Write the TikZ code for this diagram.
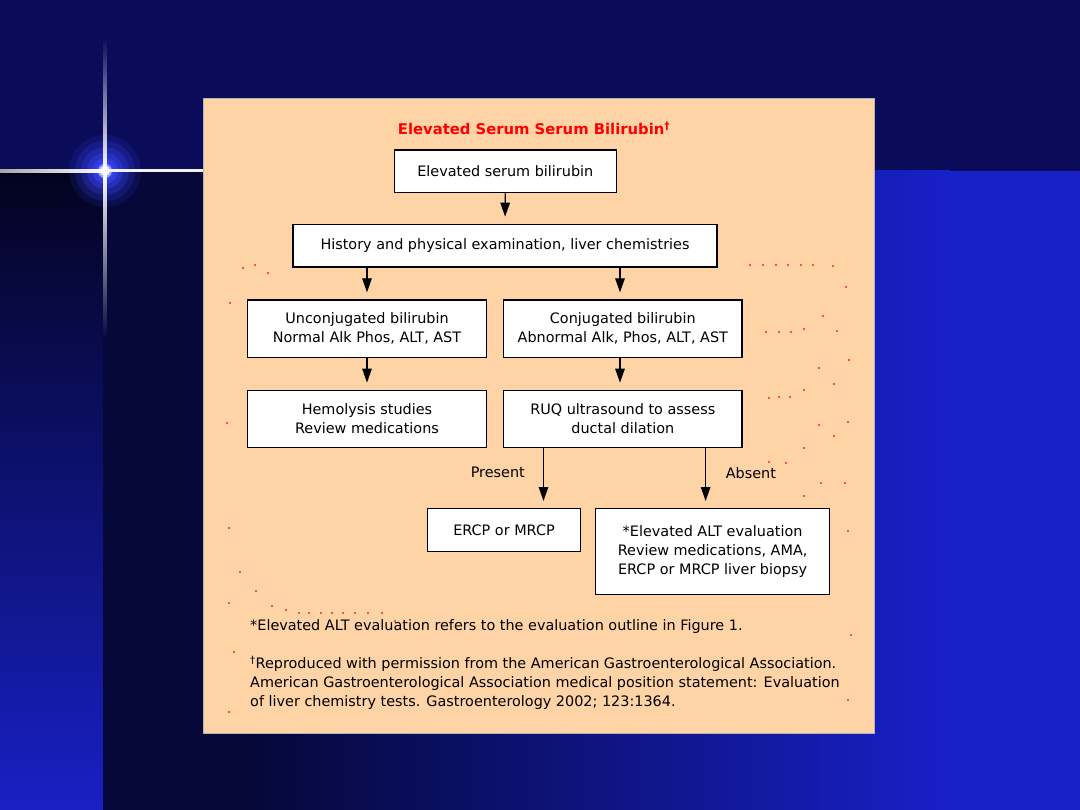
\documentclass[tikz,border=0pt]{standalone}
\usepackage{fontspec}
\setmainfont{DejaVu Sans}
\usetikzlibrary{arrows.meta}
\definecolor{topnavy}{RGB}{10,12,90}
\definecolor{stripdark}{RGB}{3,3,31}
\definecolor{stripblue}{RGB}{24,32,196}
\definecolor{maindark}{RGB}{5,8,56}
\definecolor{mainblue}{RGB}{24,32,200}
\definecolor{starblue}{RGB}{60,70,255}
\definecolor{panel}{RGB}{254,211,166}
\definecolor{dotred}{RGB}{240,40,40}
\begin{document}
\begin{tikzpicture}[x=1pt, y=-1pt,
    box/.style={draw=black, line width=1.4pt, fill=white, inner sep=0pt, align=center, font=\fontsize{14.4}{19}\selectfont},
    arr/.style={-{Triangle[length=14pt,width=9.5pt]}, line width=1.3pt, shorten >=7pt},
    txt/.style={inner sep=0pt, font=\fontsize{14.4}{19}\selectfont}]
    \useasboundingbox (0,0) rectangle (1080,810);
    % Background
    \fill[topnavy] (0,0) rectangle (1080,171);
    \shade[top color=stripdark, bottom color=stripblue] (0,171) rectangle (103,810);
    \fill[maindark] (103,171) rectangle (250,810);
    \shade[left color=maindark, right color=mainblue] (250,171) rectangle (950,810);
    \fill[mainblue] (950,171) rectangle (1080,810);
    % Star
    \coordinate (star) at (105,171);
    \foreach \r/\o in {36/0.12, 30/0.18, 24/0.25, 18/0.35, 13/0.5, 9/0.7} \fill[starblue, opacity=\o] (star) circle (\r);
    \foreach \r/\o in {7/0.5, 5/0.8, 3/1} \fill[white, opacity=\o] (star) circle (\r);
    \shade[top color=topnavy, bottom color=white] (103.5,38) rectangle (106.5,171);
    \shade[top color=white, bottom color=maindark] (103.5,171) rectangle (106.5,338);
    \shade[left color=gray!70, right color=white] (0,169.5) rectangle (105,172.5);
    \fill[white!90!gray] (105,169.5) rectangle (203,172.5);
    % Panel
    \fill[panel, draw=gray!60, line width=0.8pt] (203,98) rectangle (874,733);
    \foreach \x/\y in {243/268, 255/265, 268/273, 750/265, 763/265, 776/265, 788/265, 801/265, 813/265, 833/266, 846/287,
        230/303, 823/316, 766/332, 779/332, 791/332, 804/329, 837/331, 849/360, 819/368, 834/384, 804/390, 769/398, 779/397, 790/397,
        227/423, 819/425, 848/422, 834/436, 804/448, 769/462, 786/463, 821/483, 845/483, 804/496, 848/531, 229/528, 240/572,
        256/591, 229/603, 272/606, 286/610, 299/613, 309/613, 321/613, 332/613, 343/613, 355/613, 368/613, 382/613,
        395/621, 851/635, 234/652, 848/700, 229/712}
        \fill[dotred] (\x,\y) circle (1.1);
    % Title
    \node[inner sep=0pt, text=red, font=\fontsize{14.8}{17}\selectfont\bfseries] (title) at (534,128.5) {Elevated Serum Serum Bilirubin\textsuperscript{†}};
    % Boxes
    \node[box, minimum width=222pt, minimum height=42.7pt] (elev) at (505.3,171.4) {Elevated serum bilirubin};
    \node[box, minimum width=424pt, minimum height=42.7pt] (hist) at (505,245.7) {History and physical examination, liver chemistries};
    \node[box, minimum width=238.5pt, minimum height=57.3pt] (uncon) at (367,328.7) {Unconjugated bilirubin\\Normal Alk Phos, ALT, AST};
    \node[box, minimum width=238.5pt, minimum height=57.3pt] (conj) at (622.8,328.7) {Conjugated bilirubin\\Abnormal Alk, Phos, ALT, AST};
    \node[box, minimum width=238.5pt, minimum height=57.3pt] (hemo) at (367,419) {Hemolysis studies\\Review medications};
    \node[box, minimum width=238.5pt, minimum height=57.3pt] (ruq) at (622.8,419) {RUQ ultrasound to assess\\ductal dilation};
    \node[box, minimum width=152.6pt, minimum height=42.6pt] (ercp) at (504,530) {ERCP or MRCP};
    \node[box, minimum width=234.2pt, minimum height=86pt] (altev) at (712.6,551.7) {*Elevated ALT evaluation\\Review medications, AMA,\\ERCP or MRCP liver biopsy};
    % Connectors
    \draw[arr] (elev) -- (hist);
    \draw[arr] (uncon.north |- hist.south) -- (uncon);
    \draw[arr] ([xshift=-2.8pt]conj.north |- hist.south) -- ([xshift=-2.8pt]conj.north);
    \draw[arr] (uncon) -- (hemo);
    \draw[arr] ([xshift=-2.8pt]conj.south) -- ([xshift=-2.8pt]ruq.north);
    \coordinate (pres) at ([xshift=-79.3pt]ruq.south);
    \coordinate (abs) at ([xshift=82.8pt]ruq.south);
    \draw[arr] (pres) -- (pres |- ercp.north);
    \draw[arr] (abs) -- (abs |- altev.north);
    \node[txt, anchor=east] (present) at (525,472.7) {Present};
    \node[txt, anchor=west] (absent) at (725.6,472.7) {Absent};
    % Footnotes
    \node[txt, anchor=west] (note1) at (250,626.7) {*Elevated ALT evaluation refers to the evaluation outline in Figure 1.};
    \node[txt, anchor=west, align=left] (note2) at (250,683) {\textsuperscript{†}Reproduced with permission from the American Gastroenterological Association.\\American Gastroenterological Association medical position statement: Evaluation\\of liver chemistry tests. Gastroenterology 2002; 123:1364.};
\end{tikzpicture}
\end{document}
